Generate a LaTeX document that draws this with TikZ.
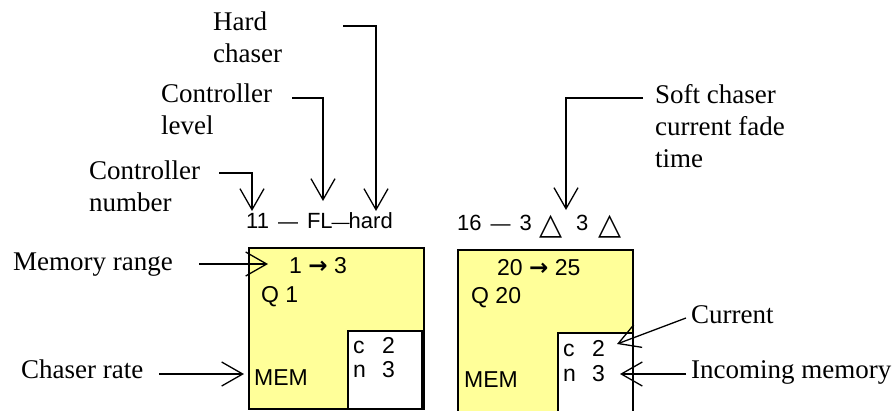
\documentclass[tikz,border=0pt]{standalone}
\usepackage{fontspec}
\setmainfont{Liberation Serif}
\setsansfont{Liberation Sans}
\newfontfamily\symfont{DejaVu Sans}
\newfontfamily\symbold{DejaVu Sans Bold}
\usetikzlibrary{arrows.meta}
\definecolor{memyellow}{HTML}{FFFF99}
\newcommand{\hdash}{{\fontsize{20}{20}\selectfont —}}
\newcommand{\hdashb}{{\fontsize{18}{18}\selectfont —}}
\newcommand{\rarr}{{\symbold\fontsize{23}{27}\selectfont →}}
\begin{document}
\begin{tikzpicture}[x=1pt,y=-1pt,
  lbl/.style={font=\fontsize{27}{32}\selectfont, inner sep=0pt, anchor=base west, align=left},
  sf/.style={font=\sffamily\fontsize{23}{27}\selectfont, inner sep=0pt, anchor=base west},
  hd/.style={font=\sffamily\fontsize{22}{26}\selectfont, inner sep=0pt, anchor=base west},
  tri/.style={font=\symfont\fontsize{30}{34}\selectfont, inner sep=0pt, anchor=south west},
  ptr/.style={line width=1.3pt, -{Straight Barb[length=21pt,width=24pt]}},
  membox/.style={draw, line width=2pt, fill=memyellow, inner sep=0pt, anchor=north west},
  inbox/.style={draw, line width=2pt, fill=white, inner sep=0pt, anchor=north west}]
\useasboundingbox (0,0) rectangle (895,410);

% boxes
\node[membox, minimum width=175pt, minimum height=161pt] (box1) at (248,247) {};
\node[inbox, minimum width=74pt, minimum height=78pt] (in1) at (347,330) {};
\node[membox, minimum width=175pt, minimum height=180pt] (box2) at (457,249) {};
\node[inbox, minimum width=75pt, minimum height=90pt] (in2) at (557,332) {};

% box 1 texts
\node[hd] (head1) at (246,228) {11\hspace{9pt}\hdash\hspace{9pt}FL\kern-1pt\hdashb\kern-1pt hard};
\node[sf] (range1) at (289,273) {1 \rarr\ 3};
\node[sf] (q1) at (261,302) {Q 1};
\node[sf] (mem1) at (254,385) {MEM};
\node[sf] (c1) at (353,353) {\makebox[29pt][l]{c}2};
\node[sf] (n1) at (353,377) {\makebox[29pt][l]{n}3};

% box 2 texts
\node[hd] (head2) at (457,230) {16\hspace{9pt}\hdash\hspace{9pt}3};
\node[tri] (tri1) at (539,238) {△};
\node[hd] (three2) at (576,230) {3};
\node[tri] (tri2) at (598,238) {△};
\node[sf] (range2) at (497,275) {20 \rarr\ 25};
\node[sf] (q2) at (471,303) {Q 20};
\node[sf] (mem2) at (464,387) {MEM};
\node[sf] (c2) at (563,356) {\makebox[29pt][l]{c}2};
\node[sf] (n2) at (563,381) {\makebox[29pt][l]{n}3};

% labels
\node[lbl] (hard) at (213,62) {Hard\\chaser};
\node[lbl] (level) at (161,134) {Controller\\level};
\node[lbl] (number) at (89,211) {Controller\\number};
\node[lbl] (range) at (13,270) {Memory range};
\node[lbl] (rate) at (21,378) {Chaser rate};
\node[lbl] (soft) at (655,167) {Soft chaser\\current fade\\time};
\node[lbl] (current) at (691,323) {Current};
\node[lbl] (incoming) at (691,378) {Incoming memory};

% connector coordinates
\coordinate (hardS) at (343,26);
\coordinate (hardT) at (376,211);
\coordinate (levelS) at (292,98);
\coordinate (levelT) at (323,201);
\coordinate (numberS) at (219,173);
\coordinate (numberT) at (252,211);
\coordinate (rangeS) at (199,264);
\coordinate (rangeT) at (268,264);
\coordinate (rateS) at (159,374);
\coordinate (rateT) at (244,374);
\coordinate (softS) at (643,98);
\coordinate (softT) at (566,210);
\coordinate (currentS) at (686,318);
\coordinate (currentT) at (617,344);
\coordinate (incomingS) at (686,374);
\coordinate (incomingT) at (620,374);

\draw[ptr] (hardS) -| (hardT);
\draw[ptr] (levelS) -| (levelT);
\draw[ptr] (numberS) -| (numberT);
\draw[ptr] (rangeS) -- (rangeT);
\draw[ptr] (rateS) -- (rateT);
\draw[ptr] (softS) -| (softT);
\draw[ptr] (currentS) -- (currentT);
\draw[ptr] (incomingS) -- (incomingT);
\end{tikzpicture}
\end{document}
